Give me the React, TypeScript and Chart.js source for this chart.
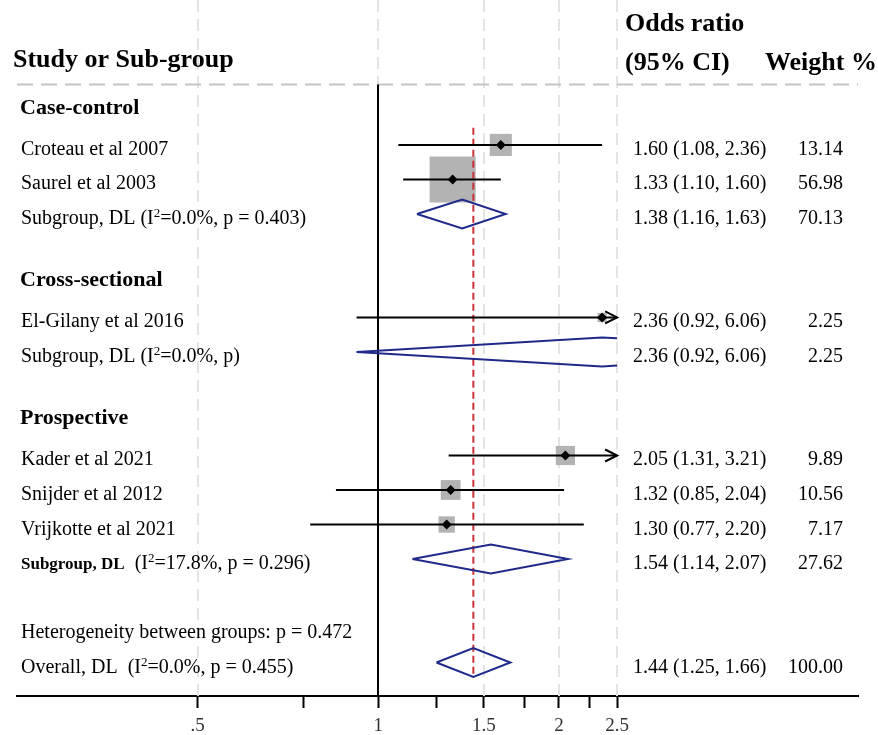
import React, { useEffect, useRef } from "react";
import { Chart, registerables } from "chart.js";

Chart.register(...registerables);

// ---------- data ----------
const studyNames = [
  "Croteau et al 2007",
  "Saurel et al 2003",
  "El-Gilany et al 2016",
  "Kader et al 2021",
  "Snijder et al 2012",
  "Vrijkotte et al 2021",
];
const studyRows = [1, 2, 6, 10, 11, 12];
const studyOR = [1.6, 1.33, 2.36, 2.05, 1.32, 1.3];
const studyLower = [1.08, 1.1, 0.92, 1.31, 0.85, 0.77];
const studyUpper = [2.36, 1.6, 6.06, 3.21, 2.04, 2.2];
const studyWeight = [13.14, 56.98, 2.25, 9.89, 10.56, 7.17];

const pooledNames = ["Subgroup, DL", "Subgroup, DL", "Subgroup, DL", "Overall, DL"];
const pooledI2 = ["0.0", "0.0", "17.8", "0.0"];
const pooledP = ["0.403", "", "0.296", "0.455"];
const pooledRows = [3, 7, 13, 16];
const pooledOR = [1.38, 2.36, 1.54, 1.44];
const pooledLower = [1.16, 0.92, 1.14, 1.25];
const pooledUpper = [1.63, 6.06, 2.07, 1.66];
const pooledWeight = [70.13, 2.25, 27.62, 100.0];

const groupNames = ["Case-control", "Cross-sectional", "Prospective"];
const groupRows = [0, 5, 9];

const heterogeneityText = "Heterogeneity between groups: p = 0.472";
const heterogeneityRow = 15;

const xTickValues = [0.5, 0.75, 1, 1.25, 1.5, 1.75, 2, 2.25, 2.5];
const xTickLabels = [".5", "", "1", "", "1.5", "", "2", "", "2.5"];

const headerLeft = "Study or Sub-group";
const headerOR = ["Odds ratio", "(95% CI)"];
const headerWeight = "Weight %";

// ---------- style ----------
const SERIF = '"Liberation Serif", "Times New Roman", serif';
const F_REG = `20px ${SERIF}`;
const F_SUP = `13px ${SERIF}`;
const F_HEAD = `bold 26px ${SERIF}`;
const F_GROUP = `bold 22px ${SERIF}`;
const F_BOLD_SMALL = `bold 17px ${SERIF}`;
const pooledNameBold = [false, false, true, false];
const pooledNameGap = [" ", " ", "  ", "  "];
const NAVY = "#1f2a8a";
const SQUARE_GREY = "#b3b3b3";
const DIAMOND_H = 0.42;
const CLIP = xTickValues[xTickValues.length - 1];
const NULL_VALUE = 1;
const OVERALL = pooledOR[pooledOR.length - 1];
const HEADER_RULE_ROW = -0.75;

const fmt = (v: number) => v.toFixed(2);

function buildCiLines() {
  const pts: any[] = [];
  studyOR.forEach((_, i) => {
    pts.push({ x: studyLower[i], y: studyRows[i] });
    pts.push({ x: Math.min(studyUpper[i], CLIP), y: studyRows[i] });
    pts.push({ x: null, y: null });
  });
  return pts;
}

function buildDiamonds() {
  const pts: any[] = [];
  pooledOR.forEach((est, i) => {
    const lo = pooledLower[i];
    const hi = pooledUpper[i];
    const r = pooledRows[i];
    if (hi <= CLIP) {
      pts.push(
        { x: lo, y: r },
        { x: est, y: r - DIAMOND_H },
        { x: hi, y: r },
        { x: est, y: r + DIAMOND_H },
        { x: lo, y: r }
      );
    } else {
      const t = Math.log(CLIP / est) / Math.log(hi / est);
      const dy = DIAMOND_H * (1 - t);
      pts.push(
        { x: CLIP, y: r - dy },
        { x: est, y: r - DIAMOND_H },
        { x: lo, y: r },
        { x: est, y: r + DIAMOND_H },
        { x: CLIP, y: r + dy }
      );
    }
    pts.push({ x: null, y: null });
  });
  return pts;
}

type Seg = { t: string; font: string; sup?: boolean };
function drawSegs(ctx: CanvasRenderingContext2D, x: number, y: number, segs: Seg[]) {
  let cx = x;
  ctx.textAlign = "left";
  for (const s of segs) {
    ctx.font = s.font;
    ctx.fillText(s.t, cx, y + (s.sup ? -7 : 0));
    cx += ctx.measureText(s.t).width;
  }
}

const forestPlugin = {
  id: "forest",
  beforeDatasetsDraw(chart: any) {
    const { ctx, chartArea, scales } = chart;
    const xs = scales.x;
    const ys = scales.y;
    ctx.save();
    // vertical dashed grid at labelled ticks
    ctx.strokeStyle = "#e4e4e4";
    ctx.lineWidth = 2;
    ctx.setLineDash([12, 7]);
    xTickValues.forEach((v, i) => {
      if (!xTickLabels[i]) return;
      const px = Math.round(xs.getPixelForValue(v));
      ctx.beginPath();
      ctx.moveTo(px, chartArea.top);
      ctx.lineTo(px, chartArea.bottom);
      ctx.stroke();
    });
    // header rule
    const ry = ys.getPixelForValue(HEADER_RULE_ROW);
    ctx.strokeStyle = "#c4c4c4";
    ctx.setLineDash([16, 8]);
    ctx.beginPath();
    ctx.moveTo(chartArea.left, ry);
    ctx.lineTo(chartArea.right, ry);
    ctx.stroke();
    // null line
    ctx.setLineDash([]);
    ctx.strokeStyle = "#000";
    ctx.lineWidth = 2;
    const nx = Math.round(xs.getPixelForValue(NULL_VALUE));
    ctx.beginPath();
    ctx.moveTo(nx, ry);
    ctx.lineTo(nx, chartArea.bottom);
    ctx.stroke();
    ctx.restore();
  },
  beforeDatasetDraw(chart: any, args: any) {
    if (args.index !== 2) return;
    const { ctx, scales } = chart;
    const px = scales.x.getPixelForValue(OVERALL);
    ctx.save();
    ctx.strokeStyle = "#c8323a";
    ctx.lineWidth = 2;
    ctx.setLineDash([7, 4]);
    ctx.beginPath();
    ctx.moveTo(px, scales.y.getPixelForValue(studyRows[0] - 0.5));
    ctx.lineTo(px, scales.y.getPixelForValue(pooledRows[pooledRows.length - 1] + 0.45));
    ctx.stroke();
    ctx.restore();
  },
  afterDatasetsDraw(chart: any) {
    const { ctx, scales } = chart;
    ctx.save();
    ctx.strokeStyle = "#000";
    ctx.lineWidth = 2;
    studyUpper.forEach((hi, i) => {
      if (hi <= CLIP) return;
      const px = scales.x.getPixelForValue(CLIP);
      const py = scales.y.getPixelForValue(studyRows[i]);
      ctx.beginPath();
      ctx.moveTo(px - 12, py - 6);
      ctx.lineTo(px, py);
      ctx.lineTo(px - 12, py + 6);
      ctx.stroke();
    });
    ctx.restore();
  },
  afterDraw(chart: any) {
    const { ctx, scales } = chart;
    const ys = scales.y;
    const LEFT = 21;
    const CI_X = 633;
    const W_X = 843;
    const DY = 10;
    ctx.save();
    ctx.fillStyle = "#000";
    ctx.textBaseline = "alphabetic";

    // header
    ctx.font = F_HEAD;
    ctx.textAlign = "left";
    ctx.fillText(headerLeft, 13, 67);
    ctx.fillText(headerOR[0], 625, 31);
    ctx.fillText(headerOR[1], 625, 70);
    ctx.fillText(headerWeight, 765, 70);

    // group headings
    ctx.font = F_GROUP;
    groupNames.forEach((g, i) => {
      ctx.fillText(g, 20, ys.getPixelForValue(groupRows[i]) + 3.5);
    });

    // studies
    studyNames.forEach((n, i) => {
      const y = ys.getPixelForValue(studyRows[i]) + DY;
      ctx.font = F_REG;
      ctx.textAlign = "left";
      ctx.fillText(n, LEFT, y);
      ctx.fillText(`${fmt(studyOR[i])} (${fmt(studyLower[i])}, ${fmt(studyUpper[i])})`, CI_X, y);
      ctx.textAlign = "right";
      ctx.fillText(fmt(studyWeight[i]), W_X, y);
    });

    // pooled
    pooledNames.forEach((n, i) => {
      const y = ys.getPixelForValue(pooledRows[i]) + DY;
      const p = pooledP[i] ? `, p = ${pooledP[i]})` : ", p)";
      drawSegs(ctx, LEFT, y, [
        { t: n, font: pooledNameBold[i] ? F_BOLD_SMALL : F_REG },
        { t: pooledNameGap[i] + "(I", font: F_REG },
        { t: "2", font: F_SUP, sup: true },
        { t: `=${pooledI2[i]}%${p}`, font: F_REG },
      ]);
      ctx.font = F_REG;
      ctx.textAlign = "left";
      ctx.fillText(`${fmt(pooledOR[i])} (${fmt(pooledLower[i])}, ${fmt(pooledUpper[i])})`, CI_X, y);
      ctx.textAlign = "right";
      ctx.fillText(fmt(pooledWeight[i]), W_X, y);
    });

    // heterogeneity
    ctx.font = F_REG;
    ctx.textAlign = "left";
    ctx.fillText(heterogeneityText, LEFT, ys.getPixelForValue(heterogeneityRow) + DY);
    ctx.restore();
  },
};

export default function App() {
  const ref = useRef<HTMLCanvasElement | null>(null);
  useEffect(() => {
    document.body.style.margin = "0";
    const canvas = ref.current;
    if (!canvas) return;
    const chart = new Chart(canvas, {
      type: "scatter",
      data: {
        datasets: [
          {
            label: "estimates",
            data: studyOR.map((v, i) => ({ x: v, y: studyRows[i] })),
            pointStyle: "rectRot",
            pointRadius: 5,
            pointHoverRadius: 5,
            backgroundColor: "#000",
            borderColor: "#000",
            borderWidth: 0,
            showLine: false,
          },
          {
            label: "ci",
            data: buildCiLines(),
            showLine: true,
            spanGaps: false,
            pointRadius: 0,
            pointHoverRadius: 0,
            borderColor: "#000",
            borderWidth: 2,
          },
          {
            label: "diamonds",
            data: buildDiamonds(),
            showLine: true,
            spanGaps: false,
            pointRadius: 0,
            pointHoverRadius: 0,
            borderColor: NAVY,
            borderWidth: 2,
            borderJoinStyle: "miter",
            fill: false,
          },
          {
            label: "weights",
            data: studyOR.map((v, i) => ({ x: v, y: studyRows[i] })),
            pointStyle: "rect",
            pointRadius: (c: any) => (6.1 * Math.sqrt(studyWeight[c.dataIndex] ?? 0)) / Math.SQRT2,
            pointHoverRadius: (c: any) => (6.1 * Math.sqrt(studyWeight[c.dataIndex] ?? 0)) / Math.SQRT2,
            backgroundColor: SQUARE_GREY,
            borderWidth: 0,
            showLine: false,
          },
        ],
      },
      options: {
        responsive: false,
        animation: false,
        events: [],
        layout: { autoPadding: false, padding: { left: 17, right: 20, top: 0, bottom: 0 } },
        plugins: { legend: { display: false }, tooltip: { enabled: false } },
        scales: {
          x: {
            type: "logarithmic",
            min: 0.25,
            max: 6.3,
            bounds: "data",
            afterBuildTicks: (s: any) => {
              s.ticks = xTickValues.map((v) => ({ value: v }));
            },
            afterFit: (s: any) => {
              s.height = 39;
            },
            ticks: {
              autoSkip: false,
              maxRotation: 0,
              minRotation: 0,
              padding: 7,
              color: "#333",
              font: { family: SERIF, size: 19 },
              callback: (_v: any, i: number) => xTickLabels[i] ?? "",
            },
            grid: {
              display: true,
              drawOnChartArea: false,
              drawTicks: true,
              tickLength: 12,
              tickWidth: 2,
              tickColor: "#000",
            },
            border: { display: true, color: "#000", width: 2 },
          },
          y: {
            type: "linear",
            display: false,
            reverse: true,
            min: -3.2,
            max: 16.97,
          },
        },
      },
      plugins: [forestPlugin],
    } as any);
    return () => chart.destroy();
  }, []);
  return (
    <div style={{ position: "fixed", left: 0, top: 0, width: 878, height: 735, background: "#fff" }}>
      <canvas ref={ref} width={878} height={735} style={{ display: "block" }} />
    </div>
  );
}
